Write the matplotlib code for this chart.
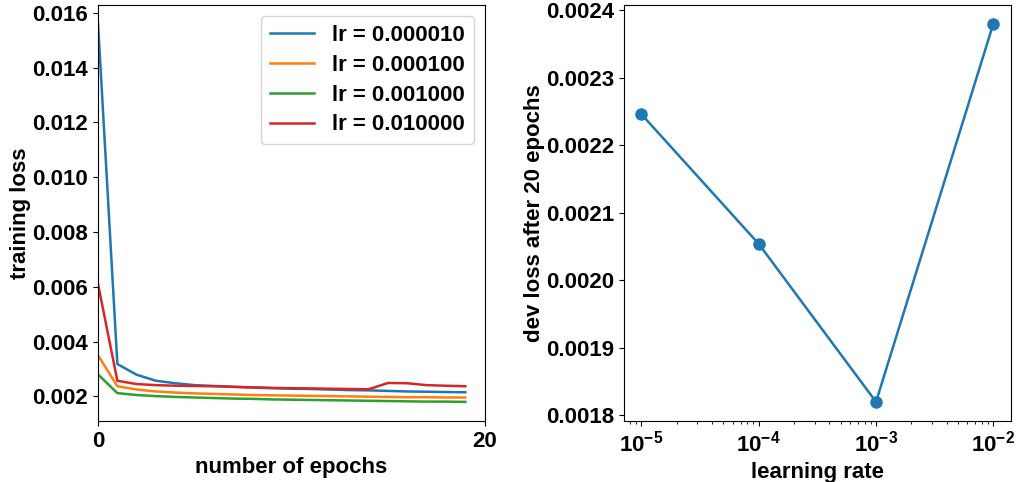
import matplotlib
matplotlib.use("Agg")
import matplotlib.pyplot as plt
import numpy as np

plt.rcParams['font.family'] = ['Liberation Sans', 'DejaVu Sans']
plt.rcParams['font.weight'] = 'bold'
plt.rcParams['axes.labelweight'] = 'bold'
plt.rcParams['font.size'] = 16
plt.rcParams['mathtext.fontset'] = 'custom'
plt.rcParams['mathtext.rm'] = 'Liberation Sans:bold'
plt.rcParams['mathtext.bf'] = 'Liberation Sans:bold'
plt.rcParams['mathtext.default'] = 'bf'

epochs = list(range(20))
loss_lr_1e5 = [0.0156, 0.00318, 0.00279, 0.00257, 0.00248, 0.00241, 0.00238, 0.00235, 0.00232,
               0.00230, 0.00228, 0.00227, 0.00225, 0.00223, 0.00222, 0.00220, 0.00218, 0.00217,
               0.00216, 0.00215]
loss_lr_1e4 = [0.0035, 0.00237, 0.00225, 0.00218, 0.00214, 0.00211, 0.00209, 0.00207, 0.00205,
               0.00204, 0.00203, 0.00202, 0.00201, 0.00200, 0.00199, 0.00198, 0.00197, 0.00197,
               0.00196, 0.00196]
loss_lr_1e3 = [0.0028, 0.00212, 0.00205, 0.00201, 0.00198, 0.00196, 0.00194, 0.00192, 0.00191,
               0.00189, 0.00188, 0.00187, 0.00186, 0.00185, 0.00184, 0.00183, 0.00182, 0.00181,
               0.00181, 0.00180]
loss_lr_1e2 = [0.0061, 0.00257, 0.00245, 0.00241, 0.00239, 0.00238, 0.00237, 0.00235, 0.00233,
               0.00231, 0.00230, 0.00229, 0.00228, 0.00227, 0.00226, 0.00249, 0.00248, 0.00241,
               0.00239, 0.00237]
series_labels = ['lr = 0.000010', 'lr = 0.000100', 'lr = 0.001000', 'lr = 0.010000']

learning_rates = [1e-5, 1e-4, 1e-3, 1e-2]
dev_loss = [0.002246, 0.002054, 0.001820, 0.002380]

fig = plt.figure(figsize=(10.16, 4.82), dpi=100)
ax1 = fig.add_axes([0.0965, 0.127, 0.3805, 0.863])
ax2 = fig.add_axes([0.614, 0.127, 0.381, 0.863])

for ys, lab in zip([loss_lr_1e5, loss_lr_1e4, loss_lr_1e3, loss_lr_1e2], series_labels):
    ax1.plot(epochs, ys, label=lab, lw=1.8)
ax1.set_xlim(0, 20)
ax1.set_xticks([0, 20])
ax1.set_yticks([0.002, 0.004, 0.006, 0.008, 0.010, 0.012, 0.014, 0.016])
ax1.set_xlabel('number of epochs')
ax1.set_ylabel('training loss', labelpad=1)
ax1.legend(loc='upper right', fontsize=16, labelspacing=0.4)

ax2.plot(learning_rates, dev_loss, marker='o', lw=1.8, markersize=8)
ax2.set_xscale('log')
ax2.set_yticks([0.0018, 0.0019, 0.0020, 0.0021, 0.0022, 0.0023, 0.0024])
ax2.set_xlabel('learning rate')
ax2.set_ylabel('dev loss after 20 epochs', labelpad=1)

fig.savefig('out.png', dpi=100)
